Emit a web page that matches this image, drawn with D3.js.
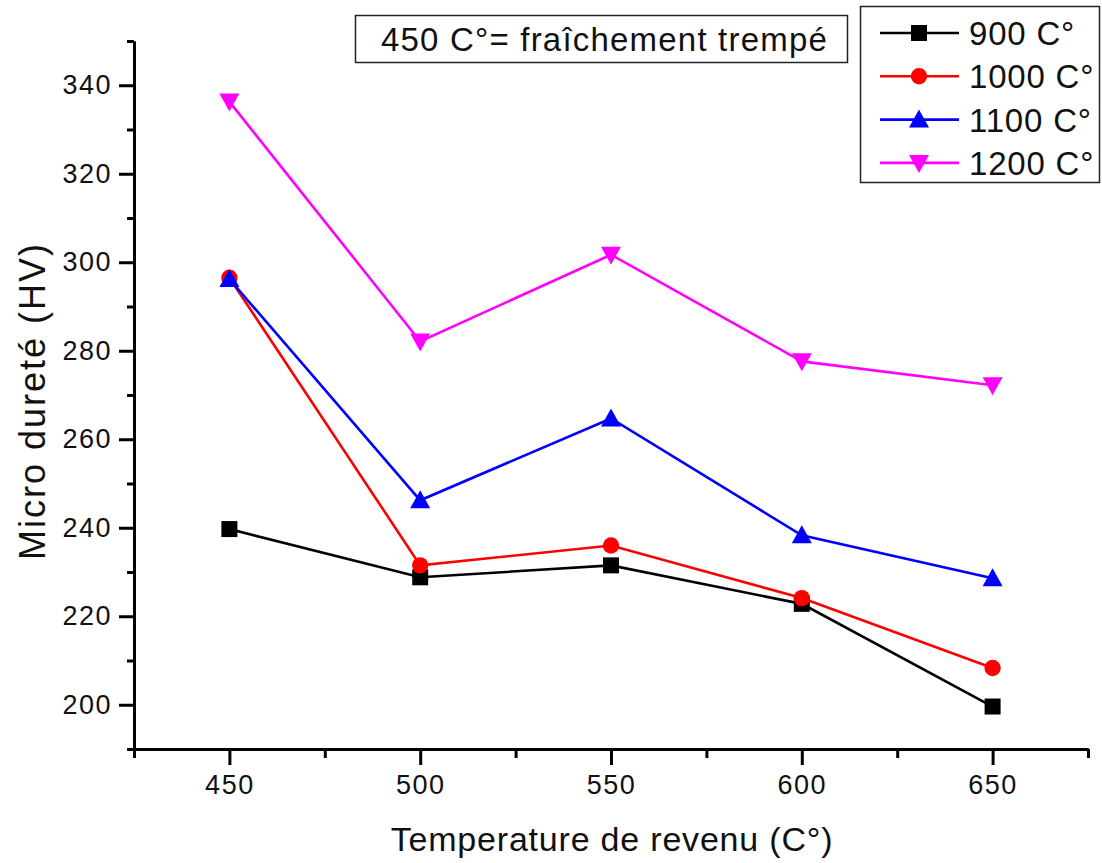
<!DOCTYPE html>
<html lang="fr">
<head>
    <meta charset="UTF-8">
    <title>Micro dureté vs température de revenu</title>
    <script src="https://cdnjs.cloudflare.com/ajax/libs/d3/7.8.5/d3.min.js"></script>
    <style>
        body {
            margin: 0;
            background: #fff;
            font-family: "Liberation Sans", Arial, sans-serif;
        }
        .tick text { font-size: 27px; fill: #111; letter-spacing: 1.5px; }
        .axis-title { font-size: 34px; fill: #111; letter-spacing: 0.8px; }
        .y-title { font-size: 36px; letter-spacing: 2px; }
        .legend-text { font-size: 33px; fill: #111; letter-spacing: 0.8px; }
        .note-text { font-size: 33px; fill: #111; letter-spacing: 1.2px; }
    </style>
</head>
<body>
    <div id="chart"></div>

    <script>
        // Data
        const temps = [450, 500, 550, 600, 650];
        const hv900 = [239.7, 228.8, 231.5, 222.8, 199.6];
        const hv1000 = [296.5, 231.5, 236.0, 224.1, 208.3];
        const hv1100 = [296.2, 246.2, 264.7, 238.3, 228.6];
        const hv1200 = [336.3, 282.1, 301.7, 277.6, 272.2];
        const seriesNames = ["900 C°", "1000 C°", "1100 C°", "1200 C°"];
        const xTicks = [450, 500, 550, 600, 650];
        const yTicks = [200, 220, 240, 260, 280, 300, 320, 340];

        const series = [
            { name: seriesNames[0], values: hv900, color: "#000000", symbol: d3.symbolSquare },
            { name: seriesNames[1], values: hv1000, color: "#ff0000", symbol: d3.symbolCircle },
            { name: seriesNames[2], values: hv1100, color: "#0000ff", symbol: "up" },
            { name: seriesNames[3], values: hv1200, color: "#ff00ff", symbol: "down" }
        ];

        const width = 1102, height = 863;
        const svg = d3.select("#chart").append("svg")
            .attr("width", width)
            .attr("height", height);

        svg.append("rect").attr("width", width).attr("height", height).attr("fill", "#fff");

        const x = d3.scaleLinear().domain([425, 675]).range([134, 1088]);
        const y = d3.scaleLinear().domain([190, 350]).range([749, 41]);

        // Axes: major ticks with labels, then minor ticks
        svg.append("g")
            .attr("transform", `translate(0,${y(190)})`)
            .call(d3.axisBottom(x).tickValues(xTicks).tickSize(16).tickSizeOuter(0).tickPadding(10));
        svg.append("g")
            .attr("transform", `translate(0,${y(190)})`)
            .call(d3.axisBottom(x).tickValues([425, 475, 525, 575, 625, 675]).tickSize(9).tickFormat("").tickSizeOuter(0));

        svg.append("g")
            .attr("transform", `translate(${x(425)},0)`)
            .call(d3.axisLeft(y).tickValues(yTicks).tickSize(15).tickSizeOuter(0).tickPadding(7));
        svg.append("g")
            .attr("transform", `translate(${x(425)},0)`)
            .call(d3.axisLeft(y).tickValues([190, 210, 230, 250, 270, 290, 310, 330, 350]).tickSize(7).tickFormat("").tickSizeOuter(0));

        svg.selectAll(".domain").attr("stroke", "#000").attr("stroke-width", 3);
        svg.selectAll(".tick line").attr("stroke", "#000").attr("stroke-width", 3);
        svg.selectAll(".tick text").attr("font-family", null).attr("font-size", null);

        // Axis titles
        svg.append("text")
            .attr("class", "axis-title")
            .attr("x", (x(425) + x(675)) / 2 + 1)
            .attr("y", 851)
            .attr("text-anchor", "middle")
            .text("Temperature de revenu (C°)");

        svg.append("text")
            .attr("class", "axis-title y-title")
            .attr("transform", `translate(45,${(y(190) + y(350)) / 2 + 6}) rotate(-90)`)
            .attr("text-anchor", "middle")
            .text("Micro dureté (HV)");

        // Marker shapes
        function markerPath(sym) {
            if (sym === "up") return "M0,-10L10,8L-10,8Z";
            if (sym === "down") return "M0,10L10,-8L-10,-8Z";
            if (sym === d3.symbolSquare) return d3.symbol(sym, 256)();
            return d3.symbol(sym, 210)();
        }

        const line = d3.line()
            .x((d, i) => x(temps[i]))
            .y(d => y(d));

        series.forEach(s => {
            const g = svg.append("g");
            g.append("path")
                .datum(s.values)
                .attr("d", line)
                .attr("fill", "none")
                .attr("stroke", s.color)
                .attr("stroke-width", 2.6);
            g.selectAll("path.marker")
                .data(s.values)
                .enter()
                .append("path")
                .attr("class", "marker")
                .attr("d", markerPath(s.symbol))
                .attr("transform", (d, i) => `translate(${x(temps[i])},${y(d)})`)
                .attr("fill", s.color);
        });

        // Annotation box
        svg.append("rect")
            .attr("x", 355.5).attr("y", 15.5)
            .attr("width", 492).attr("height", 47)
            .attr("fill", "#fff")
            .attr("stroke", "#222")
            .attr("stroke-width", 1.5);
        svg.append("text")
            .attr("class", "note-text")
            .attr("x", 381)
            .attr("y", 51)
            .text("450 C°= fraîchement trempé");

        // Legend
        const legend = svg.append("g");
        legend.append("rect")
            .attr("x", 860.5).attr("y", 6.5)
            .attr("width", 239).attr("height", 176)
            .attr("fill", "#fff")
            .attr("stroke", "#222")
            .attr("stroke-width", 1.5);

        series.forEach((s, i) => {
            const cy = 33 + i * 43.3;
            legend.append("line")
                .attr("x1", 880).attr("x2", 959)
                .attr("y1", cy).attr("y2", cy)
                .attr("stroke", s.color)
                .attr("stroke-width", 2.6);
            legend.append("path")
                .attr("d", markerPath(s.symbol))
                .attr("transform", `translate(919,${cy})`)
                .attr("fill", s.color);
            legend.append("text")
                .attr("class", "legend-text")
                .attr("x", 969)
                .attr("y", cy + 12)
                .text(s.name);
        });
    </script>
</body>
</html>
